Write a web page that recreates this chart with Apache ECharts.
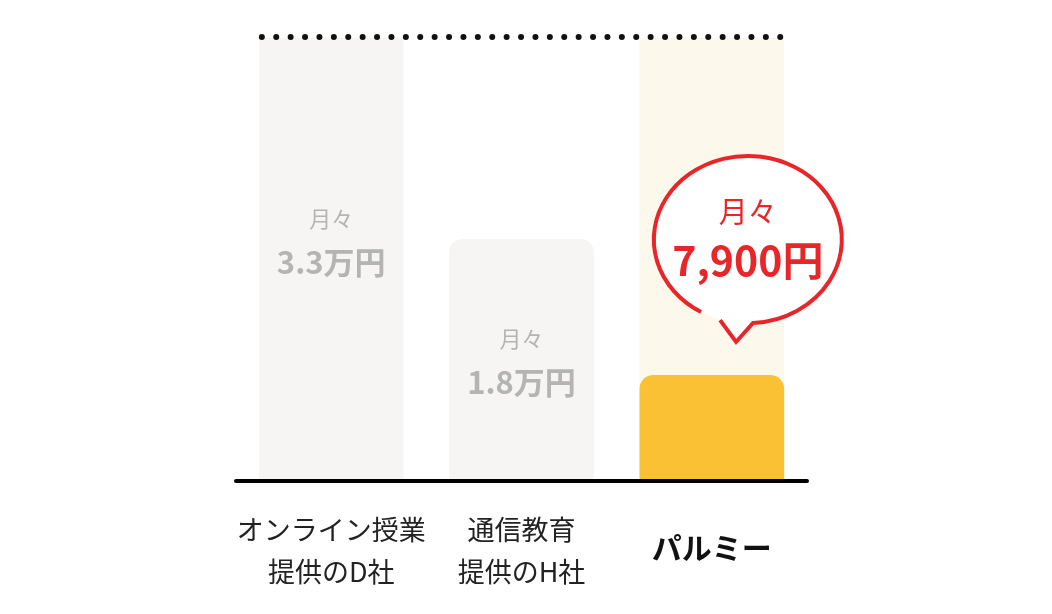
<!DOCTYPE html>
<html>
<head>
<meta charset="utf-8">
<script src="https://cdn.jsdelivr.net/npm/echarts@6/dist/echarts.min.js"></script>
<style>
html,body{margin:0;padding:0;background:#fff;}
#chart{width:1052px;height:614px;}
</style>
</head>
<body>
<div id="chart"></div>
<script>
const categories = ['オンライン授業\n提供のD社', '通信教育\n提供のH社', 'パルミー'];
const monthlyFees = [33000, 18000, 7900];
const feeLabels = ['3.3万円', '1.8万円', '7,900円'];
const ceiling = 33000;
const highlightIndex = 2;

const FONT = '"Noto Sans CJK JP", "Noto Sans", sans-serif';
const RED = '#e8262a';
const GRAY_TEXT = '#b4b4b4';

const chart = echarts.init(document.getElementById('chart'), null, {renderer: 'canvas'});

const backdropData = categories.map((c, i) => i === highlightIndex ? ceiling : '-');
const competitorData = monthlyFees.map((v, i) => {
  if (i === highlightIndex) return '-';
  return {
    value: v,
    itemStyle: {borderRadius: i === 0 ? 0 : [12, 12, 0, 0]},
    label: {offset: i === 0 ? [0, -19] : [0, 0]}
  };
});
const palmieData = monthlyFees.map((v, i) => i === highlightIndex ? v : '-');

const option = {
  animation: false,
  backgroundColor: '#fff',
  grid: {left: 236, right: 245, top: 38, bottom: 133},
  xAxis: {
    type: 'category',
    data: categories,
    z: 20,
    axisTick: {show: false},
    axisLine: {lineStyle: {color: '#000', width: 4}},
    axisLabel: {
      margin: 28,
      fontSize: 27,
      lineHeight: 42,
      color: '#222',
      fontFamily: FONT,
      interval: 0,
      formatter: function (v) {
        return v === categories[highlightIndex] ? '{hl|' + v + '}' : v;
      },
      rich: {
        hl: {fontSize: 30, fontWeight: 'bold', color: '#111', lineHeight: 78, fontFamily: FONT}
      }
    }
  },
  yAxis: {
    type: 'value',
    min: 0,
    max: ceiling,
    show: false,
    splitLine: {show: false}
  },
  series: [
    {
      type: 'bar',
      name: 'backdrop',
      data: backdropData,
      barWidth: '76%',
      barGap: '-100%',
      itemStyle: {color: '#fdf8ec'},
      silent: true,
      z: 1
    },
    {
      type: 'bar',
      name: 'competitors',
      data: competitorData,
      barWidth: '76%',
      barGap: '-100%',
      itemStyle: {color: '#f6f5f3'},
      z: 2,
      label: {
        show: true,
        position: 'inside',
        formatter: function (p) {
          return '{a|月々}\n{b|' + feeLabels[p.dataIndex] + '}';
        },
        rich: {
          a: {fontSize: 22, color: GRAY_TEXT, lineHeight: 44, fontFamily: FONT},
          b: {fontSize: 31, fontWeight: 'bold', color: GRAY_TEXT, lineHeight: 44, fontFamily: FONT}
        }
      }
    },
    {
      type: 'bar',
      name: 'palmie',
      data: palmieData,
      barWidth: '76%',
      barGap: '-100%',
      itemStyle: {color: '#f9c133', borderRadius: [14, 14, 0, 0]},
      z: 3,
      markPoint: {
        silent: true,
        z: 10,
        symbol: 'path://M44 156 A94 84 0 1 1 96 167 L79 186 L63 164',
        symbolSize: [188, 186],
        symbolOffset: [36, -126],
        itemStyle: {color: '#fff', borderColor: RED, borderWidth: 4},
        label: {
          show: true,
          position: 'inside',
          offset: [0, -13],
          formatter: '{a|月々}\n{b|' + feeLabels[highlightIndex] + '}',
          rich: {
            a: {fontSize: 29, color: RED, lineHeight: 48, fontFamily: FONT},
            b: {fontSize: 41, fontWeight: 'bold', color: RED, lineHeight: 48, fontFamily: FONT}
          }
        },
        data: [{coord: [categories[highlightIndex], monthlyFees[highlightIndex]]}]
      }
    },
    {
      type: 'custom',
      name: 'ceilingLine',
      silent: true,
      z: 5,
      data: [[0, ceiling]],
      renderItem: function (params, api) {
        const left = api.coord([0, ceiling]);
        const right = api.coord([categories.length - 1, ceiling]);
        const half = api.size([1, 0])[0] * 0.38;
        return {
          type: 'line',
          shape: {x1: left[0] - half + 3, y1: left[1] - 1, x2: right[0] + half, y2: right[1] - 1},
          style: {stroke: '#111', lineWidth: 6, lineDash: [0, 14.4], lineCap: 'round'}
        };
      }
    }
  ]
};

chart.setOption(option);
</script>
</body>
</html>
